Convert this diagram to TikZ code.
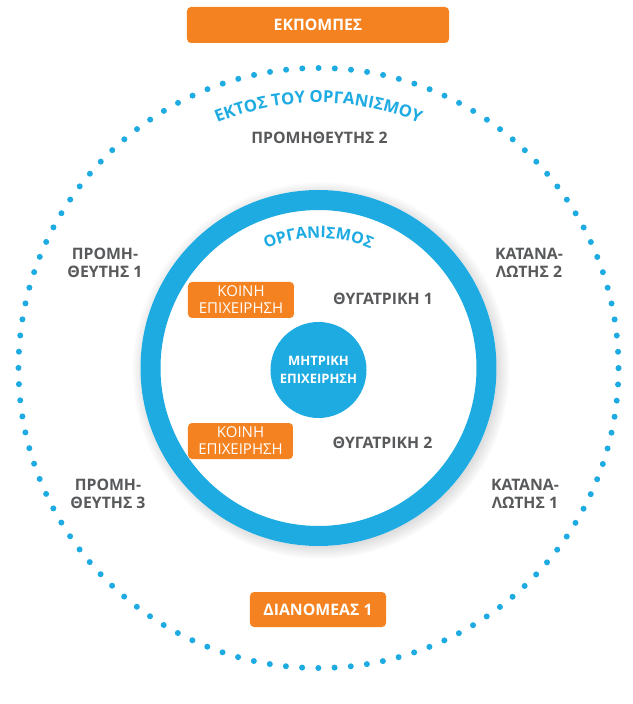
\documentclass[tikz,border=0pt]{standalone}
\usepackage{fontspec}
\setmainfont{Open Sans}
\usetikzlibrary{decorations.text,shadows}
\definecolor{orgblue}{RGB}{29,171,226}
\definecolor{orgorange}{RGB}{245,130,32}
\definecolor{orggrey}{RGB}{88,89,91}
\newcommand{\labfont}{\fontsize{15.8}{18}\selectfont\bfseries}

\begin{document}
\begin{tikzpicture}[x=1pt,y=1pt,
    tagbox/.style={fill=orgorange,rounded corners=4pt,text=white,inner sep=0pt,
      align=center,font=\fontsize{15}{17}\selectfont},
    party/.style={text=orggrey,align=center,font=\labfont}]
  \useasboundingbox (-318.5,-336) rectangle (313.5,368);

  % outside: dotted boundary
  \draw[orgblue,line width=6pt,line cap=round,dash pattern=on 0pt off 16.25pt]
    (0,0) circle[radius=300];
  \path[decorate,decoration={text along path,text align=center,
      text={|\color{orgblue}\fontsize{16.6}{16}\selectfont\bfseries|ΕΚΤΟΣ ΤΟΥ ΟΡΓΑΝΙΣΜΟΥ}}]
    (160:265) arc[start angle=160,end angle=20,radius=265];

  % organisation ring
  \fill[white,circular drop shadow={shadow xshift=2pt,shadow yshift=-2pt,
      shadow scale=1.06,opacity=.55}] (0,0) circle[radius=178];
  \draw[orgblue,line width=20pt] (0,0) circle[radius=168];
  \path[decorate,decoration={text along path,text align=center,
      text={|\color{orgblue}\fontsize{16}{16}\selectfont\bfseries|ΟΡΓΑΝΙΣΜΟΣ}}]
    (150:130) arc[start angle=150,end angle=30,radius=130];

  \node[circle,fill=orgblue,minimum size=96pt,inner sep=0pt,text=white,align=center,
    font=\fontsize{13}{18}\selectfont\bfseries] (mother) at (0,-2) {ΜΗΤΡΙΚΗ\\ΕΠΙΧΕΙΡΗΣΗ};

  \node[tagbox,minimum width=106pt,minimum height=36pt] (joint1) at (-77.5,68) {ΚΟΙΝΗ\\ΕΠΙΧΕΙΡΗΣΗ};
  \node[tagbox,minimum width=105pt,minimum height=36pt] (joint2) at (-78,-73) {ΚΟΙΝΗ\\ΕΠΙΧΕΙΡΗΣΗ};
  \node[party] (sub1) at (64.5,69) {ΘΥΓΑΤΡΙΚΗ 1};
  \node[party] (sub2) at (64,-75) {ΘΥΓΑΤΡΙΚΗ 2};

  % parties outside the organisation
  \node[party] (sup2) at (1,230) {ΠΡΟΜΗΘΕΥΤΗΣ 2};
  \node[party] (sup1) at (-213.5,105) {ΠΡΟΜΗ-\\ΘΕΥΤΗΣ 1};
  \node[party] (sup3) at (-210.5,-126) {ΠΡΟΜΗ-\\ΘΕΥΤΗΣ 3};
  \node[party] (cons2) at (210.5,105) {ΚΑΤΑΝΑ-\\ΛΩΤΗΣ 2};
  \node[party] (cons1) at (206.5,-126) {ΚΑΤΑΝΑ-\\ΛΩΤΗΣ 1};

  \node[tagbox,minimum width=262pt,minimum height=36pt,font=\labfont] (emis) at (-0.5,343) {ΕΚΠΟΜΠΕΣ};
  \node[tagbox,minimum width=136pt,minimum height=35pt,font=\labfont] (dist) at (-0.5,-241.5) {ΔΙΑΝΟΜΕΑΣ 1};
\end{tikzpicture}
\end{document}
